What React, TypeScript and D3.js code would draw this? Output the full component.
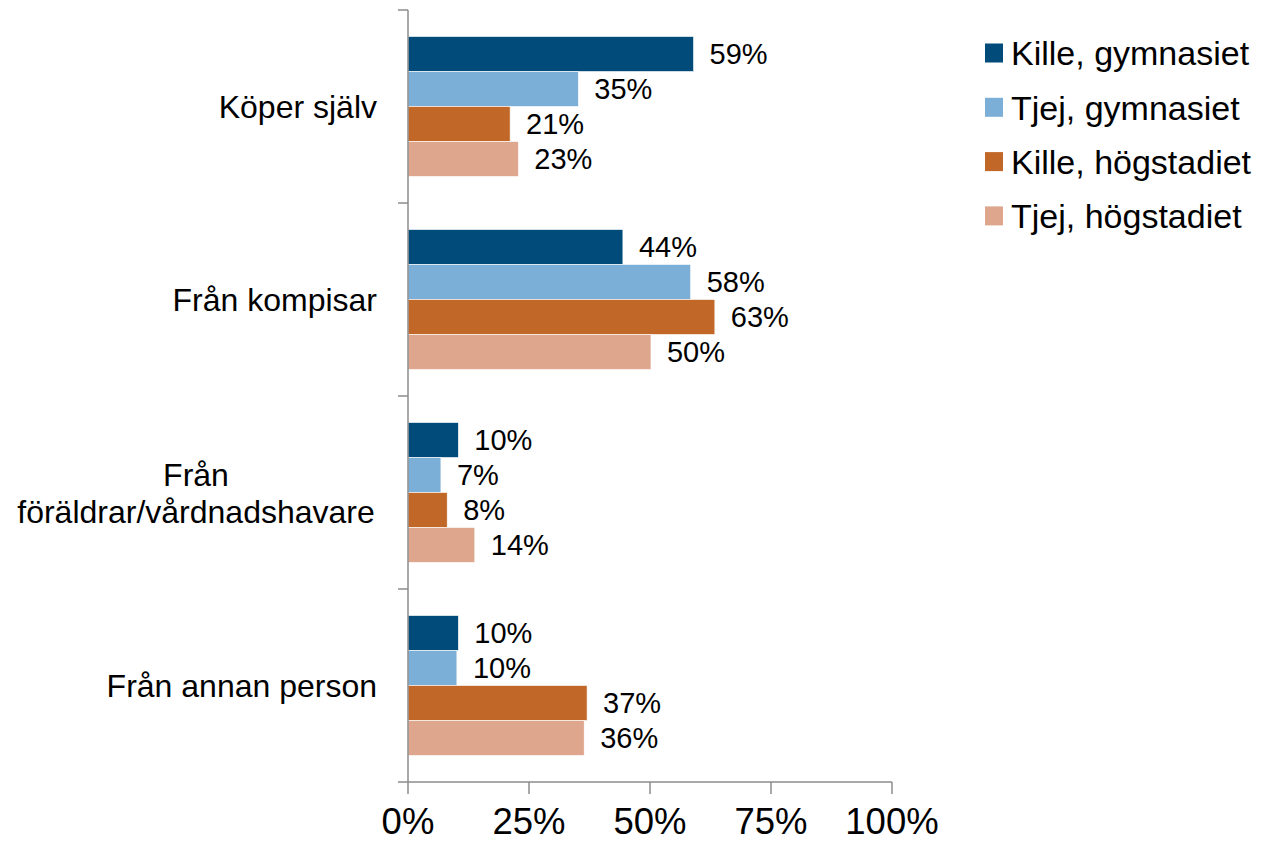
import React from "react";
import * as d3 from "d3";

const categories = ["Köper själv", "Från kompisar", "Från\nföräldrar/vårdnadshavare", "Från annan person"];
const seriesNames = ["Kille, gymnasiet", "Tjej, gymnasiet", "Kille, högstadiet", "Tjej, högstadiet"];
const killeGymnasiet = [59, 44.4, 10.4, 10.4];
const tjejGymnasiet = [35.2, 58.4, 6.8, 10.1];
const killeHogstadiet = [21.1, 63.4, 8.1, 37];
const tjejHogstadiet = [22.8, 50.2, 13.8, 36.4];
const seriesValues = [killeGymnasiet, tjejGymnasiet, killeHogstadiet, tjejHogstadiet];
const seriesColors = ["#004B7A", "#7BAFD7", "#C16828", "#DEA68D"];
const xTicks = [0, 25, 50, 75, 100];

const FONT = "'Liberation Sans', Arial, sans-serif";

export default function App() {
  const width = 1261;
  const height = 842;
  const x = d3.scaleLinear().domain([0, 100]).range([408, 892]);
  const y = d3
    .scaleBand<string>()
    .domain(categories)
    .range([10, 782])
    .paddingInner(0.275)
    .paddingOuter(0.1375);
  const inner = d3
    .scaleBand<string>()
    .domain(seriesNames)
    .range([0, y.bandwidth()])
    .padding(0);
  const step = y.step();
  const boundaries = d3.range(categories.length + 1).map((i) => 10 + i * step);
  const axisColor = "#8C8C8C";
  const fmt = (v: number) => `${Math.round(v)}%`;

  return (
    <svg
      width={width}
      height={height}
      style={{ position: "absolute", left: 0, top: 0, background: "#fff" }}
      fontFamily={FONT}
    >
      {/* bars */}
      {categories.map((c, ci) => (
        <g key={c} transform={`translate(0,${y(c)})`}>
          {seriesNames.map((s, si) => {
            const v = seriesValues[si][ci];
            const by = inner(s)!;
            const bh = inner.bandwidth();
            return (
              <g key={s}>
                <rect
                  x={x(0)}
                  y={by}
                  width={x(v) - x(0)}
                  height={bh}
                  fill={seriesColors[si]}
                  stroke="#fff"
                  strokeWidth={0.6}
                />
                <text
                  x={x(v) + 16}
                  y={by + bh / 2}
                  dy="0.36em"
                  fontSize={29}
                  fill="#000"
                >
                  {fmt(v)}
                </text>
              </g>
            );
          })}
        </g>
      ))}

      {/* y axis */}
      <line x1={x(0)} x2={x(0)} y1={10} y2={782} stroke={axisColor} strokeWidth={1.5} />
      {boundaries.map((b, i) => (
        <line key={i} x1={x(0) - 10} x2={x(0)} y1={b} y2={b} stroke={axisColor} strokeWidth={1.5} />
      ))}

      {/* x axis */}
      <line x1={x(0)} x2={x(100)} y1={782} y2={782} stroke={axisColor} strokeWidth={1.5} />
      {xTicks.map((t) => (
        <g key={t}>
          <line x1={x(t)} x2={x(t)} y1={782} y2={794} stroke={axisColor} strokeWidth={1.5} />
          <text x={x(t)} y={834} textAnchor="middle" fontSize={36.5} fill="#000">
            {t}%
          </text>
        </g>
      ))}

      {/* category labels */}
      {categories.map((c) => {
        const lines = c.split("\n");
        const cy = y(c)! + y.bandwidth() / 2;
        const lh = 37;
        const multi = lines.length > 1;
        const lx = multi ? 196 : 377;
        return (
          <text
            key={c}
            x={lx}
            y={cy - ((lines.length - 1) * lh) / 2}
            textAnchor={multi ? "middle" : "end"}
            fontSize={32}
            fill="#000"
          >
            {lines.map((l, i) => (
              <tspan key={i} x={lx} dy={i === 0 ? "0.36em" : lh}>
                {l}
              </tspan>
            ))}
          </text>
        );
      })}

      {/* legend */}
      {seriesNames.map((s, i) => {
        const ly = 53 + i * 54.3;
        return (
          <g key={s}>
            <rect x={985} y={ly - 9.5} width={18} height={19} fill={seriesColors[i]} />
            <text x={1011} y={ly} dy="0.36em" fontSize={34} fill="#000">
              {s}
            </text>
          </g>
        );
      })}
    </svg>
  );
}
